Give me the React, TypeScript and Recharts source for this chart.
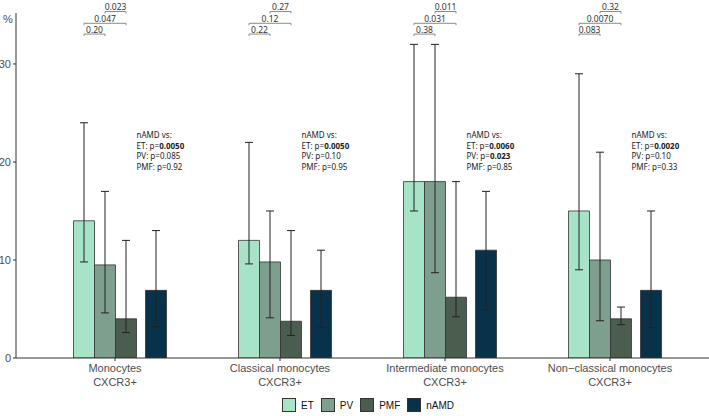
import React from 'react';
import { BarChart, Bar, XAxis, YAxis, ErrorBar, LabelList, Legend, Customized } from 'recharts';

// ---- data ----
const categories = [
  'Monocytes\nCXCR3+',
  'Classical monocytes\nCXCR3+',
  'Intermediate monocytes\nCXCR3+',
  'Non\u2212classical monocytes\nCXCR3+',
];

const seriesNames = ['ET', 'PV', 'PMF', 'nAMD'];

const ET = [14, 12, 18, 15];
const ET_low = [9.8, 9.6, 15, 9];
const ET_high = [24, 22, 32, 29];

const PV = [9.5, 9.8, 18, 10];
const PV_low = [4.6, 4.1, 8.7, 3.8];
const PV_high = [17, 15, 32, 21];

const PMF = [4.0, 3.75, 6.2, 4.0];
const PMF_low = [2.6, 2.3, 4.2, 3.4];
const PMF_high = [12, 13, 18, 5.2];

const nAMD = [6.9, 6.9, 11, 6.9];
const nAMD_low = [3.2, 3.1, 4.9, 3.1];
const nAMD_high = [13, 11, 17, 15];

// pairwise p-values (brackets)
const pETvsPV = ['0.20', '0.22', '0.38', '0.083'];
const pETvsPMF = ['0.047', '0.12', '0.031', '0.0070'];
const pPVvsPMF = ['0.023', '0.27', '0.011', '0.32'];

// nAMD vs. others
const pNamdET = ['0.0050', '0.0050', '0.0060', '0.0020'];
const pNamdPV = ['0.085', '0.10', '0.023', '0.10'];
const pNamdPMF = ['0.92', '0.95', '0.85', '0.33'];

const yTicks = [0, 10, 20, 30];
const bracketLevels = [33.05, 34.15, 35.35];
const annotationY = 22.4;

// ---- styles ----
const colors: Record<string, string> = {
  ET: '#a7e3c7',
  PV: '#7e9f8e',
  PMF: '#4a5d4f',
  nAMD: '#08314a',
};
const axisFont = '"Liberation Sans", Arial, sans-serif';
const noteFont = '"Noto Sans", "Open Sans", sans-serif';

const data = categories.map((c, i) => ({
  name: c,
  spacerA: 0,
  spacerB: 0,
  ET: ET[i],
  ET_err: [ET[i] - ET_low[i], ET_high[i] - ET[i]],
  PV: PV[i],
  PV_err: [PV[i] - PV_low[i], PV_high[i] - PV[i]],
  PMF: PMF[i],
  PMF_err: [PMF[i] - PMF_low[i], PMF_high[i] - PMF[i]],
  nAMD: nAMD[i],
  nAMD_err: [nAMD[i] - nAMD_low[i], nAMD_high[i] - nAMD[i]],
}));

const getBox = (p: any) => {
  const vb = p.viewBox || {};
  return {
    x: vb.x ?? p.x,
    y: vb.y ?? p.y,
    width: vb.width ?? p.width,
    height: vb.height ?? p.height,
  };
};

const BracketLabel = (props: any) => {
  const i = props.index;
  const b = getBox(props);
  if (b.x == null || !b.height) return null;
  const ppu = b.height / ET[i];
  const base = b.y + b.height;
  const toPx = (v: number) => base - v * ppu;
  const c0 = b.x + b.width / 2;
  const c1 = c0 + b.width;
  const c2 = c0 + 2 * b.width;
  const items = [
    { x1: c0, x2: c1, level: bracketLevels[0], text: pETvsPV[i] },
    { x1: c0, x2: c2, level: bracketLevels[1], text: pETvsPMF[i] },
    { x1: c1, x2: c2, level: bracketLevels[2], text: pPVvsPMF[i] },
  ];
  return (
    <g>
      {items.map((it, k) => {
        const py = toPx(it.level);
        return (
          <g key={k}>
            <path
              d={`M${it.x1},${py + 2}L${it.x1},${py}L${it.x2},${py}L${it.x2},${py + 2}`}
              stroke="#8a8a8a"
              strokeWidth={1}
              fill="none"
            />
            <text
              x={(it.x1 + it.x2) / 2}
              y={py - 1.2}
              textAnchor="middle"
              fontSize={8.5}
              fontFamily={noteFont}
              fill="#333"
            >
              {it.text}
            </text>
          </g>
        );
      })}
    </g>
  );
};

const sig = (s: string) => parseFloat(s) < 0.05;

const AnnotLabel = (props: any) => {
  const i = props.index;
  const b = getBox(props);
  if (b.x == null || !b.height) return null;
  const ppu = b.height / PMF[i];
  const base = b.y + b.height;
  const py = base - annotationY * ppu;
  const x = b.x + b.width;
  const rows = [
    { label: 'ET: p=', v: pNamdET[i] },
    { label: 'PV: p=', v: pNamdPV[i] },
    { label: 'PMF: p=', v: pNamdPMF[i] },
  ];
  return (
    <text x={x} y={py} fontSize={8} fontFamily={noteFont} fill="#222">
      <tspan x={x} dy={0}>nAMD vs:</tspan>
      {rows.map((r, k) => (
        <tspan key={k} x={x} dy={10.4}>
          {r.label}
          <tspan fontWeight={sig(r.v) ? 700 : 400}>{r.v}</tspan>
        </tspan>
      ))}
    </text>
  );
};

const CatTick = (props: any) => {
  const { x, y, payload } = props;
  const lines = String(payload.value).split('\n');
  return (
    <text x={x} y={y} textAnchor="middle" fill="#4d4d4d" fontSize={11} fontFamily={axisFont}>
      {lines.map((l, k) => (
        <tspan key={k} x={x} dy={k === 0 ? 9 : 13.5}>
          {l}
        </tspan>
      ))}
    </text>
  );
};

const LegendContent = () => (
  <div
    style={{
      display: 'flex',
      alignItems: 'center',
      marginLeft: 282,
      height: 14,
      fontFamily: axisFont,
      fontSize: 10,
      color: '#111',
    }}
  >
    {seriesNames.map((s) => (
      <div key={s} style={{ display: 'flex', alignItems: 'center', marginRight: 7 }}>
        <div
          style={{
            width: 14,
            height: 14,
            boxSizing: 'border-box',
            background: colors[s],
            border: '1px solid #333',
            marginRight: 5,
          }}
        />
        <span>{s}</span>
      </div>
    ))}
  </div>
);

const PctLabel = () => (
  <text x={3} y={23} fontSize={11} fontFamily={axisFont} fill="#4d4d4d">
    %
  </text>
);

export default function App() {
  return (
    <div style={{ position: 'absolute', left: 0, top: 0, width: 709, height: 416, background: '#fff' }}>
      <BarChart
        width={709}
        height={416}
        data={data}
        margin={{ top: 13, right: 0, bottom: 13, left: 0 }}
        barGap={0}
      >
        <XAxis
          dataKey="name"
          type="category"
          height={45}
          padding={{ left: 16.5, right: 16.5 }}
          tick={<CatTick />}
          tickSize={3}
          tickMargin={2}
          axisLine={{ stroke: '#333' }}
          tickLine={{ stroke: '#333' }}
          interval={0}
        />
        <YAxis
          type="number"
          domain={[0, 35.2]}
          ticks={yTicks}
          width={16}
          tickSize={3}
          tickMargin={2}
          axisLine={{ stroke: '#333' }}
          tickLine={{ stroke: '#333' }}
          tick={{ fill: '#4d4d4d', fontSize: 11, fontFamily: axisFont }}
          allowDataOverflow
        />
        <Legend
          verticalAlign="middle"
          align="center"
          layout="horizontal"
          content={<LegendContent />}
          wrapperStyle={{ top: 398, left: 0, width: 709 }}
        />
        <Bar dataKey="spacerA" barSize={9} fill="none" legendType="none" isAnimationActive={false} />
        <Bar dataKey="ET" barSize={21} fill={colors.ET} stroke="#333" strokeWidth={0.8} isAnimationActive={false}>
          <ErrorBar dataKey="ET_err" width={4} stroke="#222" strokeWidth={1} direction="y" />
          <LabelList dataKey="ET" content={<BracketLabel />} />
        </Bar>
        <Bar dataKey="PV" barSize={21} fill={colors.PV} stroke="#333" strokeWidth={0.8} isAnimationActive={false}>
          <ErrorBar dataKey="PV_err" width={4} stroke="#222" strokeWidth={1} direction="y" />
        </Bar>
        <Bar dataKey="PMF" barSize={21} fill={colors.PMF} stroke="#333" strokeWidth={0.8} isAnimationActive={false}>
          <ErrorBar dataKey="PMF_err" width={4} stroke="#222" strokeWidth={1} direction="y" />
          <LabelList dataKey="PMF" content={<AnnotLabel />} />
        </Bar>
        <Bar dataKey="spacerB" barSize={9} fill="none" legendType="none" isAnimationActive={false} />
        <Bar dataKey="nAMD" barSize={21} fill={colors.nAMD} stroke="#333" strokeWidth={0.8} isAnimationActive={false}>
          <ErrorBar dataKey="nAMD_err" width={4} stroke="#222" strokeWidth={1} direction="y" />
        </Bar>
        <Customized component={<PctLabel />} />
      </BarChart>
    </div>
  );
}
